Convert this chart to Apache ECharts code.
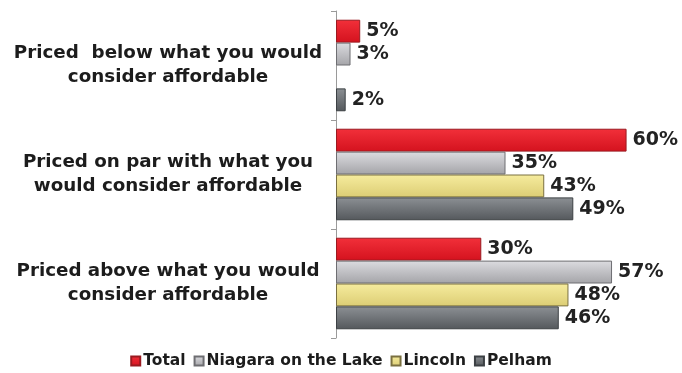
<!DOCTYPE html>
<html>
<head>
<meta charset="utf-8">
<script src="https://cdn.jsdelivr.net/npm/echarts@6/dist/echarts.min.js"></script>
<style>
  html, body { margin: 0; padding: 0; background: #ffffff; }
  #chart { width: 682px; height: 373px; }
</style>
</head>
<body>
<div id="chart"></div>
<script>
// Survey answers: how prices compare with what respondents consider affordable
const categories = [
  'Priced  below what you would\nconsider affordable',
  'Priced on par with what you\nwould consider affordable',
  'Priced above what you would\nconsider affordable'
];
const seriesNames = ['Total', 'Niagara on the Lake', 'Lincoln', 'Pelham'];
const totalValues   = [5, 60, 30];
const niagaraValues = [3, 35, 57];
const lincolnValues = ['-', 43, 48];
const pelhamValues  = [2, 49, 46];

// Vertical shading for each bar colour: top, bottom, outline
const palettes = [
  ['#f2303a', '#d4121e', '#9a1a20'],
  ['#dcdce0', '#a4a4a8', '#6e6e72'],
  ['#f6ec9e', '#dccd74', '#7a7040'],
  ['#8c9094', '#54585c', '#3c4044']
];

function shade(p) {
  return {
    type: 'linear', x: 0, y: 0, x2: 0, y2: 1,
    colorStops: [
      { offset: 0, color: p[0] },
      { offset: 1, color: p[1] }
    ]
  };
}

const dataSets = [totalValues, niagaraValues, lincolnValues, pelhamValues];

const chart = echarts.init(document.getElementById('chart'));
chart.setOption({
  animation: false,
  textStyle: { fontFamily: 'DejaVu Sans' },
  grid: { left: 336, right: 7, top: 11, bottom: 35, containLabel: false },
  xAxis: {
    type: 'value', min: 0, max: 70,
    axisLine: { show: false }, axisTick: { show: false },
    axisLabel: { show: false }, splitLine: { show: false }
  },
  yAxis: {
    type: 'category', inverse: true, data: categories,
    axisLine: { show: true, lineStyle: { color: '#9a9a9a', width: 1 } },
    axisTick: { show: true, length: 5, lineStyle: { color: '#9a9a9a' } },
    axisLabel: {
      align: 'center', margin: 168,
      fontSize: 18.3, fontWeight: 'bold', color: '#1c1c1c', lineHeight: 24
    }
  },
  legend: {
    top: 353, left: 'center', padding: 0,
    itemWidth: 9, itemHeight: 9, itemGap: 8,
    icon: 'rect',
    textStyle: { fontSize: 15.5, fontWeight: 'bold', color: '#1c1c1c', padding: [0, 0, 0, -2] },
    data: seriesNames
  },
  series: dataSets.map((vals, i) => ({
    name: seriesNames[i],
    type: 'bar',
    data: vals,
    barGap: '0%',
    barCategoryGap: '16%',
    itemStyle: { color: shade(palettes[i]), borderColor: palettes[i][2], borderWidth: 1 },
    label: {
      show: true, position: 'right', distance: 6,
      formatter: '{c}%',
      fontSize: 19, fontWeight: 'bold', color: '#222222'
    }
  }))
});
</script>
</body>
</html>
